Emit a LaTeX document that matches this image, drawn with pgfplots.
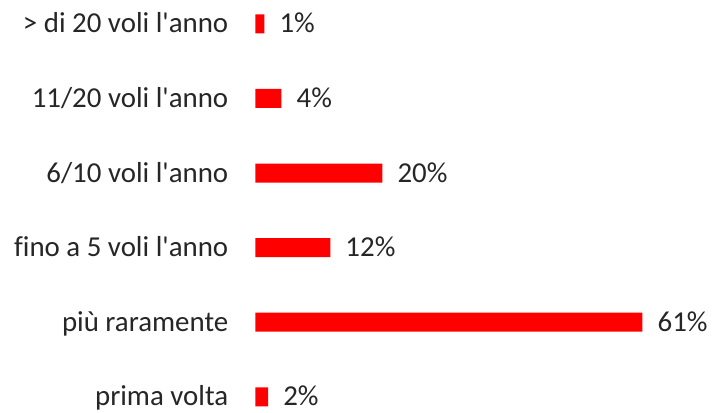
\documentclass[border=0pt]{standalone}
\usepackage{pgfplots}
\pgfplotsset{compat=1.18}
\usepackage{pgfplotstable}
\usepackage{fontspec}
\setmainfont{Carlito}[Ligatures={NoCommon}]
\definecolor{barred}{RGB}{255,0,0}
\pgfplotstableread[col sep=comma]{
y,val,lab
0,1.4,1\%
1,4.1,4\%
2,20,20\%
3,11.8,12\%
4,61,61\%
5,2,2\%
}\datatab
\begin{document}
\begin{tikzpicture}
\begin{axis}[
  x=6.345bp, y=74.6bp,
  y dir=reverse,
  xmin=0, xmax=72.6,
  ymin=-0.32, ymax=5.21,
  xbar, bar width=19bp,
  axis line style={draw=none},
  xtick=\empty,
  ytick={0,1,2,3,4,5},
  yticklabels={{> di 20 voli l\textquotesingle anno},{11/20 voli l\textquotesingle anno},{6/10 voli l\textquotesingle anno},{fino a 5 voli l\textquotesingle anno},{più raramente},{prima volta}},
  major tick length=0pt,
  yticklabel style={font=\fontsize{29}{35}\selectfont, inner sep=0pt, anchor=east, xshift=-27bp, text height=24bp, text depth=6bp, text=black!85},
  nodes near coords,
  point meta=explicit symbolic,
  nodes near coords style={font=\fontsize{29}{35}\selectfont, anchor=west, inner sep=0pt, xshift=15bp, text height=18bp, text depth=0bp, text=black!85},
  clip=false,
]
\addplot[fill=barred, draw=none] table[x=val, y=y, meta=lab] {\datatab};
\coordinate (bl) at (axis cs:0,5.21);
\coordinate (tr) at (axis cs:72.6,-0.32);
\end{axis}
\pgfresetboundingbox
\path[use as bounding box] ([xshift=-255.5bp]bl) rectangle (tr);
\end{tikzpicture}
\end{document}
